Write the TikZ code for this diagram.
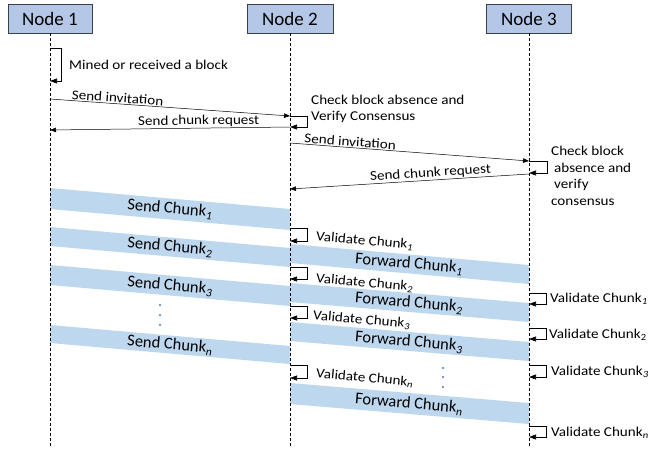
\documentclass[tikz,border=0pt]{standalone}
\usepackage{fontspec}
\setmainfont{Carlito}
\newfontfamily\widefont[FakeStretch=1.12]{Carlito}
\usetikzlibrary{arrows.meta}
\definecolor{boxfill}{HTML}{B4C7E7}
\definecolor{boxline}{HTML}{3A3F48}
\definecolor{bandfill}{HTML}{BDD7EE}
\definecolor{dotcol}{HTML}{4472C4}
\tikzset{
  hdrbox/.style={draw=boxline, line width=0.8pt, fill=boxfill, minimum height=29, inner sep=0, font=\fontsize{19}{22}\selectfont},
  life/.style={dash pattern=on 3pt off 2pt, line width=0.8pt},
  msg/.style={-{Triangle[length=6pt,width=4.5pt]}, line width=0.5pt},
  selfloop/.style={-{Triangle[length=7pt,width=5pt]}, line width=0.6pt},
  lbl/.style={font=\widefont\fontsize{13.5}{16.5}\selectfont, inner sep=1pt},
  bandlbl/.style={font=\fontsize{16.5}{19}\selectfont, rotate=-5, inner sep=0pt},
  vlbl/.style={font=\widefont\fontsize{13.5}{16.5}\selectfont, inner sep=0pt, anchor=west},
  band/.style={fill=bandfill},
  dotmark/.style={circle, fill=dotcol, inner sep=0pt, minimum size=2.4pt}
}
\begin{document}
\begin{tikzpicture}[x=1pt,y=-1pt]
\useasboundingbox (0,0) rectangle (663,451);
% bands first (under the lifelines)
\fill[band] (50,188) -- (290,209) -- (290,230) -- (50,209) -- cycle;
\fill[band] (50,227) -- (290,248) -- (290,267) -- (50,246) -- cycle;
\fill[band] (50,265) -- (290,286) -- (290,306) -- (50,285) -- cycle;
\fill[band] (50,325) -- (290,346) -- (290,364) -- (50,343) -- cycle;
\fill[band] (290,244) -- (529,265) -- (529,284) -- (290,263) -- cycle;
\fill[band] (290,283) -- (529,303) -- (529,322) -- (290,302) -- cycle;
\fill[band] (290,322) -- (529,342) -- (529,361) -- (290,341) -- cycle;
\fill[band] (290,383) -- (529,403) -- (529,424) -- (290,404) -- cycle;
\node[bandlbl] (sc1) at (170,209) {Send Chunk\textsubscript{\textit{1}}};
\node[bandlbl] (sc2) at (170,247) {Send Chunk\textsubscript{\textit{2}}};
\node[bandlbl] (sc3) at (170,286) {Send Chunk\textsubscript{\textit{3}}};
\node[bandlbl] (scn) at (170,345) {Send Chunk\textsubscript{\textit{n}}};
\node[bandlbl] (fc1) at (409,264) {Forward Chunk\textsubscript{\textit{1}}};
\node[bandlbl] (fc2) at (409,303) {Forward Chunk\textsubscript{\textit{2}}};
\node[bandlbl] (fc3) at (409,342) {Forward Chunk\textsubscript{\textit{3}}};
\node[bandlbl] (fcn) at (409,404) {Forward Chunk\textsubscript{\textit{n}}};
% headers and lifelines
\node[hdrbox, minimum width=84] (n1) at (50,18.5) {Node 1};
\node[hdrbox, minimum width=86] (n2) at (290,18.5) {Node 2};
\node[hdrbox, minimum width=85] (n3) at (529,18.5) {Node 3};
\coordinate (e1) at (50,447);
\coordinate (e2) at (290,447);
\coordinate (e3) at (529,447);
\draw[life] (n1.south) -- (e1);
\draw[life] (n2.south) -- (e2);
\draw[life] (n3.south) -- (e3);
% mined
\coordinate (a1) at (50,48); \coordinate (a2) at (50,81);
\draw[selfloop] (a1) -- ++(11,0) |- (a2);
\node[vlbl] (tmined) at (69,65) {Mined or received a block};
% invitation 1 -> 2
\coordinate (m1s) at (50,99); \coordinate (m1e) at (290,116);
\draw[msg] (m1s) -- node[lbl, sloped, above, pos=0.28] (linv1) {Send invitation} (m1e);
\coordinate (b1) at (290,116); \coordinate (b2) at (290,127);
\draw[selfloop] (b1) -- ++(17,0) |- (b2);
\node[lbl, anchor=west, align=left, inner sep=0pt] (tchk2) at (311,109) {Check block absence and\\Verify Consensus};
\coordinate (m2s) at (290,127); \coordinate (m2e) at (50,130);
\draw[msg] (m2s) -- node[lbl, sloped, above, pos=0.38] (lreq1) {Send chunk request} (m2e);
% invitation 2 -> 3
\coordinate (m3s) at (290,143); \coordinate (m3e) at (529,161);
\draw[msg] (m3s) -- node[lbl, sloped, above, pos=0.25] (linv2) {Send invitation} (m3e);
\coordinate (c1) at (529,161); \coordinate (c2) at (529,173);
\draw[selfloop] (c1) -- ++(18,0) |- (c2);
\node[lbl, anchor=north west, align=left, inner sep=0pt] (tchk3) at (551,146) {Check block\\\hspace*{3pt}absence and\\\hspace*{3pt}verify\\consensus};
\coordinate (m4s) at (529,174); \coordinate (m4e) at (290,189);
\draw[msg] (m4s) -- node[lbl, sloped, above, pos=0.41] (lreq2) {Send chunk request} (m4e);
% validate at node 2
\coordinate (v21a) at (290,228); \coordinate (v21b) at (290,241);
\draw[selfloop] (v21a) -- ++(17,0) |- (v21b);
\node[vlbl, rotate=-5] (tv21) at (316,237) {Validate Chunk\textsubscript{\textit{1}}};
\coordinate (v22a) at (290,267); \coordinate (v22b) at (290,279);
\draw[selfloop] (v22a) -- ++(17,0) |- (v22b);
\node[vlbl, rotate=-5] (tv22) at (316,279) {Validate Chunk\textsubscript{\textit{2}}};
\coordinate (v23a) at (290,306); \coordinate (v23b) at (290,318);
\draw[selfloop] (v23a) -- ++(17,0) |- (v23b);
\node[vlbl, rotate=-5] (tv23) at (313,316) {Validate Chunk\textsubscript{\textit{3}}};
\coordinate (v2na) at (290,365); \coordinate (v2nb) at (290,378);
\draw[selfloop] (v2na) -- ++(17,0) |- (v2nb);
\node[vlbl, rotate=-5] (tv2n) at (316,374) {Validate Chunk\textsubscript{\textit{n}}};
% validate at node 3
\coordinate (v31a) at (529,293); \coordinate (v31b) at (529,304);
\draw[selfloop] (v31a) -- ++(17,0) |- (v31b);
\node[vlbl] (tv31) at (550,299) {Validate Chunk\textsubscript{\textit{1}}};
\coordinate (v32a) at (529,328); \coordinate (v32b) at (529,339);
\draw[selfloop] (v32a) -- ++(17,0) |- (v32b);
\node[vlbl] (tv32) at (549,335) {Validate Chunk\textsubscript{2}};
\coordinate (v33a) at (529,365); \coordinate (v33b) at (529,377);
\draw[selfloop] (v33a) -- ++(17,0) |- (v33b);
\node[vlbl] (tv33) at (551,372) {Validate Chunk\textsubscript{\textit{3}}};
\coordinate (v3na) at (529,426); \coordinate (v3nb) at (529,437);
\draw[selfloop] (v3na) -- ++(17,0) |- (v3nb);
\node[vlbl] (tv3n) at (551,433) {Validate Chunk\textsubscript{\textit{n}}};
% ellipsis dots
\node[dotmark] (d11) at (160,305) {};
\node[dotmark] (d12) at (160,315) {};
\node[dotmark] (d13) at (160,325) {};
\node[dotmark] (d21) at (443,368) {};
\node[dotmark] (d22) at (443,377) {};
\node[dotmark] (d23) at (443,387) {};
\end{tikzpicture}
\end{document}
